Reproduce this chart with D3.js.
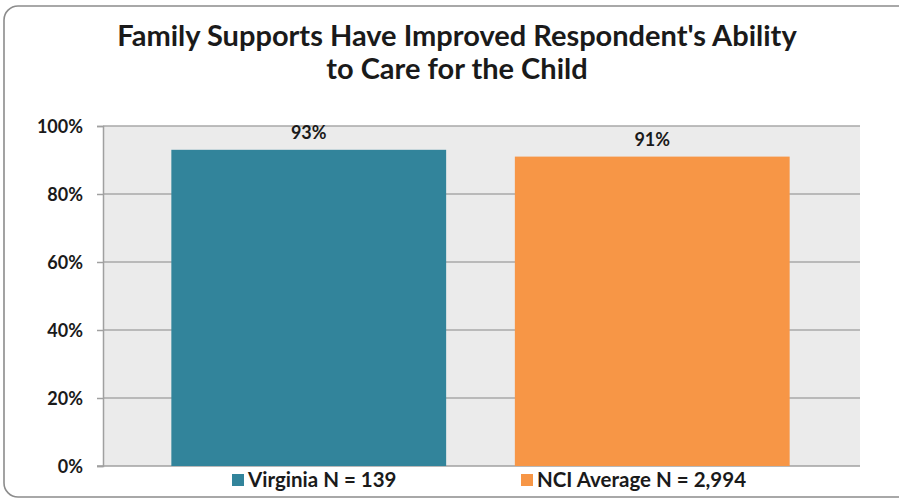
<!DOCTYPE html>
<html><head><meta charset="utf-8">
<script src="https://cdn.jsdelivr.net/npm/d3@7"></script>
<style>body{margin:0;background:#fff}svg{display:block}</style>
</head><body>
<script>
const categories = ["Virginia N = 139", "NCI Average N = 2,994"];
const values = [0.93, 0.91];
const labels = ["93%", "91%"];
const colors = ["#32849b", "#f79646"];
const yTicks = [0, 0.2, 0.4, 0.6, 0.8, 1.0];
const titleLines = ["Family Supports Have Improved Respondent's Ability", "to Care for the Child"];

const W = 899, H = 500;
const svg = d3.select("body").append("svg").attr("width", W).attr("height", H);
const font = "Lato, 'Open Sans', sans-serif";

svg.append("rect").attr("x", 4).attr("y", 6).attr("width", 910).attr("height", 491)
  .attr("rx", 14).attr("fill", "#fff").attr("stroke", "#8c8c8c").attr("stroke-width", 1.6);

const plot = {l: 103, r: 860, t: 126, b: 466};
const y = d3.scaleLinear().domain([0, 1]).range([plot.b, plot.t]);
const x = d3.scaleBand().domain(categories).range([137, 824]).paddingInner(0.2).paddingOuter(0.1);

svg.append("rect").attr("x", plot.l).attr("y", plot.t).attr("width", plot.r - plot.l)
  .attr("height", plot.b - plot.t).attr("fill", "#ebebeb");

svg.append("g").selectAll("line").data(yTicks.filter(d => d > 0)).join("line")
  .attr("x1", plot.l).attr("x2", plot.r).attr("y1", d => y(d)).attr("y2", d => y(d))
  .attr("stroke", "#a8a8a8").attr("stroke-width", 1.5);

const yAxis = svg.append("g").attr("transform", `translate(${plot.l},0)`)
  .call(d3.axisLeft(y).tickValues(yTicks).tickFormat(d3.format(".0%")).tickSize(6).tickPadding(14));
yAxis.select(".domain").attr("stroke", "#a0a0a0").attr("stroke-width", 1.5);
yAxis.selectAll(".tick line").attr("stroke", "#a0a0a0").attr("stroke-width", 1.5);
yAxis.selectAll("text").attr("font-family", font).attr("font-weight", "bold").attr("font-size", 18).attr("fill", "#1a1a1a")
  .attr("dy", "0.36em");

svg.append("line").attr("x1", plot.l - 6).attr("x2", plot.r).attr("y1", plot.b).attr("y2", plot.b)
  .attr("stroke", "#a0a0a0").attr("stroke-width", 1.5);

svg.append("g").selectAll("rect").data(categories).join("rect")
  .attr("x", d => x(d)).attr("width", x.bandwidth())
  .attr("y", (d, i) => y(values[i])).attr("height", (d, i) => plot.b - y(values[i]))
  .attr("fill", (d, i) => colors[i]);

svg.append("g").selectAll("text").data(categories).join("text")
  .attr("x", d => x(d) + x.bandwidth() / 2).attr("y", (d, i) => y(values[i]) - 11)
  .attr("text-anchor", "middle").attr("font-family", font).attr("font-weight", "bold")
  .attr("font-size", 18).attr("fill", "#1a1a1a").text((d, i) => labels[i]);

svg.append("g").selectAll("text").data(titleLines).join("text")
  .attr("x", 457).attr("y", (d, i) => 46 + i * 33).attr("text-anchor", "middle")
  .attr("font-family", font).attr("font-weight", "bold").attr("font-size", 29).attr("fill", "#1a1a1a")
  .text(d => d);

const legX = [232, 521];
const leg = svg.append("g").selectAll("g").data(categories).join("g")
  .attr("transform", (d, i) => `translate(${legX[i]},474)`);
leg.append("rect").attr("width", 12).attr("height", 12).attr("fill", (d, i) => colors[i]);
leg.append("text").attr("x", 16).attr("y", 13).attr("font-family", font).attr("font-weight", "bold")
  .attr("font-size", 20.5).attr("fill", "#1a1a1a").text(d => d);
</script>
</body></html>
